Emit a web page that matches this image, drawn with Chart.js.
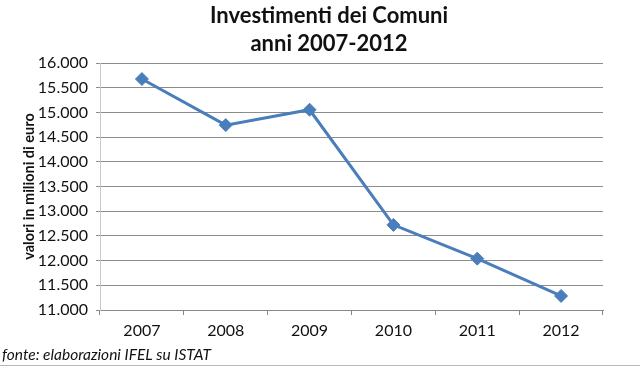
<!DOCTYPE html>
<html>
<head>
<meta charset="utf-8">
<script src="https://cdn.jsdelivr.net/npm/chart.js@4"></script>
<style>
html,body{margin:0;padding:0;background:#fff;}
#wrap{width:640px;height:367px;position:relative;}
</style>
</head>
<body>
<div id="wrap"><canvas id="c" width="640" height="367"></canvas></div>
<script>
const titleLines = ['Investimenti dei Comuni', 'anni 2007-2012'];
const yAxisTitle = 'valori in milioni di euro';
const sourceNote = 'fonte: elaborazioni IFEL su ISTAT';
const years = ['2007', '2008', '2009', '2010', '2011', '2012'];
const investimenti = [15676, 14743, 15054, 12723, 12040, 11284];
const yMin = 11000, yMax = 16000, yStep = 500;

function fmt(v){ return String(v).replace(/\B(?=(\d{3})+(?!\d))/g, '.'); }

const footerPlugin = {
  id: 'footerNote',
  afterDraw(chart){
    const ctx = chart.ctx;
    ctx.save();
    ctx.font = 'italic 15.5px Lato';
    ctx.fillStyle = '#111';
    ctx.textBaseline = 'middle';
    ctx.textAlign = 'left';
    ctx.fillText(sourceNote, 2, 355);
    ctx.strokeStyle = '#b8b8b8';
    ctx.lineWidth = 1;
    ctx.beginPath();
    ctx.moveTo(0, 365.5);
    ctx.lineTo(640, 365.5);
    ctx.stroke();
    ctx.restore();
  }
};

new Chart(document.getElementById('c'), {
  type: 'line',
  data: {
    labels: years,
    datasets: [{
      data: investimenti,
      borderColor: '#4A7EBB',
      backgroundColor: '#4A7EBB',
      borderWidth: 3,
      pointStyle: 'rectRot',
      pointRadius: 6.5,
      pointHoverRadius: 6.5,
      pointBorderWidth: 1,
      tension: 0,
      yAxisID: 'y'
    }]
  },
  options: {
    responsive: false,
    animation: false,
    events: [],
    layout: { padding: { left: 18, right: 0, top: 0, bottom: 27 } },
    plugins: {
      legend: { display: false },
      tooltip: { enabled: false },
      title: {
        display: true,
        text: titleLines,
        color: '#111',
        font: { family: 'Lato', size: 22, weight: 'bold', lineHeight: 1.273 },
        padding: { top: 2, bottom: 5 }
      }
    },
    scales: {
      x: {
        type: 'category',
        offset: true,
        grid: { drawOnChartArea: false, drawTicks: true, tickLength: 5, offset: true, color: '#888' },
        border: { display: true, color: '#888', width: 1 },
        ticks: { color: '#111', font: { family: 'Lato', size: 16 }, padding: 6.5, maxRotation: 0 },
        afterFit(s){ s.height = 30; }
      },
      y: {
        type: 'linear',
        position: 'left',
        min: yMin, max: yMax,
        ticks: { stepSize: yStep, color: '#111', font: { family: 'Lato', size: 16 }, padding: 8,
                 callback: v => fmt(v) },
        grid: { color: '#8c8c8c', lineWidth: 1, drawTicks: true, tickLength: 4 },
        border: { display: true, color: '#c8c8c8', width: 1 },
        title: { display: true, text: yAxisTitle, color: '#111',
                 font: { family: 'Lato', size: 14.5, weight: 'bold', lineHeight: 1.2 },
                 padding: { top: 2.5, bottom: 0 } },
        afterFit(s){ s.width = 82; }
      },
      yR: {
        type: 'linear',
        position: 'right',
        display: true,
        min: yMin, max: yMax,
        grid: { display: false },
        border: { display: false },
        ticks: { display: false },
        afterFit(s){ s.width = 37; }
      }
    }
  },
  plugins: [footerPlugin]
});
</script>
</body>
</html>
